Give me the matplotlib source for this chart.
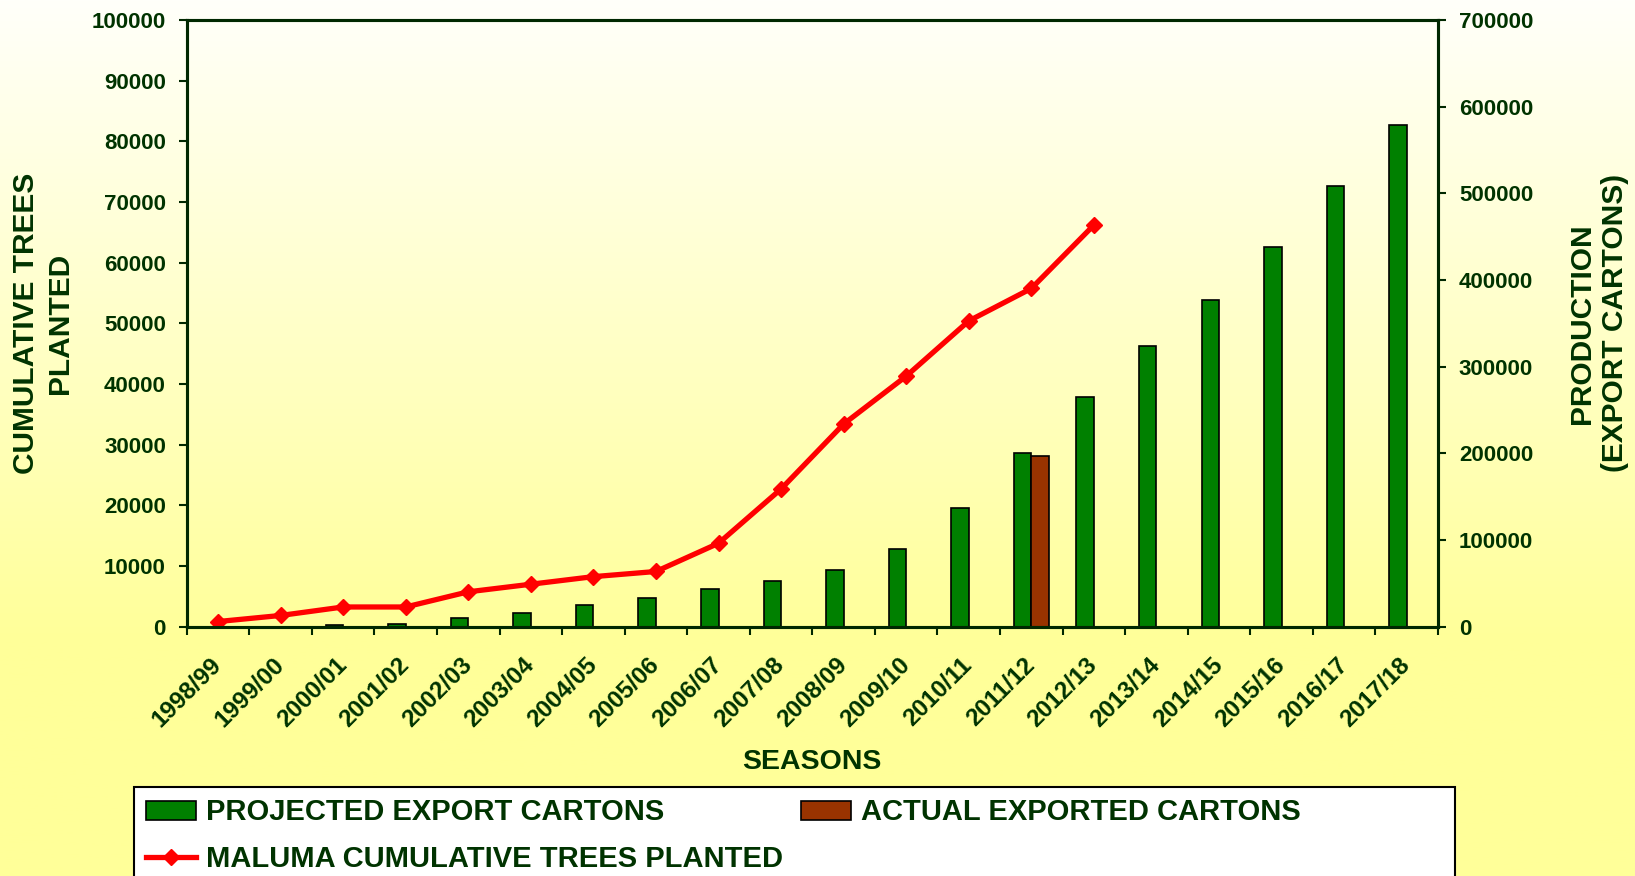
import numpy as np
import matplotlib
matplotlib.use("Agg")
import matplotlib.pyplot as plt
import matplotlib.transforms as mtransforms
from matplotlib.lines import Line2D
from matplotlib.patches import Patch, Rectangle

seasons = ["1998/99", "1999/00", "2000/01", "2001/02", "2002/03", "2003/04", "2004/05",
           "2005/06", "2006/07", "2007/08", "2008/09", "2009/10", "2010/11", "2011/12",
           "2012/13", "2013/14", "2014/15", "2015/16", "2016/17", "2017/18"]
projected_cartons = [0, 0, 1500, 3000, 10000, 16000, 25000, 33500, 44000, 52500,
                     65000, 90000, 137000, 200000, 265000, 324000, 377000, 438000,
                     508000, 579000]
actual_cartons = [np.nan] * 13 + [197500] + [np.nan] * 6
trees_planted = [850, 1850, 3250, 3250, 5750, 7000, 8250, 9100, 13750, 22700,
                 33400, 41300, 50400, 55750, 66200] + [np.nan] * 5

txt_c = "#003300"
plt.rcParams['font.family'] = ['Liberation Sans', 'DejaVu Sans']
plt.rcParams['font.weight'] = 'bold'
plt.rcParams['axes.labelweight'] = 'bold'

W, H = 1635, 876
fig = plt.figure(figsize=(W / 100, H / 100), dpi=100)

# background gradient, white at top to yellow at bottom
bg = fig.add_axes([0, 0, 1, 1], zorder=-5)
yy = np.linspace(0, 1, 400)
g = np.clip(250 - 95 * yy / 0.716, 153, 255) / 255
img = np.ones((400, 2, 3))
img[:, :, 2] = g[:, None]
bg.imshow(img, aspect='auto', extent=[0, 1, 1, 0])
bg.set_axis_off()

x0, x1, y0, y1 = 186.7, 1438, 20, 626.7
ax1 = fig.add_axes([x0 / W, 1 - y1 / H, (x1 - x0) / W, (y1 - y0) / H])
ax2 = ax1.twinx()
ax1.set_zorder(ax2.get_zorder() + 1)
ax1.patch.set_visible(False)
ax2.patch.set_visible(False)

x = np.arange(len(seasons))
bw = 0.28
ax2.bar(x - bw / 2, projected_cartons, bw, color="#008000", edgecolor="black", linewidth=1.2)
ax2.bar(x + bw / 2, actual_cartons, bw, color="#993300", edgecolor="black", linewidth=1.2)
ax1.plot(x, trees_planted, color="#FF0000", lw=3.8, marker='D', ms=8, mec="#FF0000")

ax1.set_xlim(-0.5, len(seasons) - 0.5)
ax1.set_ylim(0, 100000)
ax2.set_ylim(0, 700000)
ax1.set_yticks(np.arange(0, 100001, 10000))
ax2.set_yticks(np.arange(0, 700001, 100000))

ax1.set_xticks(np.arange(-0.5, len(seasons), 1))
ax1.set_xticklabels([])
ax1.set_xticks(x, minor=True)
ax1.set_xticklabels(seasons, minor=True, rotation=45, ha='right', va='center',
                    rotation_mode='anchor', fontsize=17.5, color=txt_c)
off = mtransforms.ScaledTranslation(-18 / 100, 0, fig.dpi_scale_trans)
for lab in ax1.get_xticklabels(minor=True):
    lab.set_transform(lab.get_transform() + off)
ax1.tick_params(axis='x', which='minor', length=0, pad=25)
ax1.tick_params(axis='x', which='major', length=6, width=1.5, color="#002800")
ax1.tick_params(axis='y', length=6, width=1.5, pad=9, labelsize=16, labelcolor=txt_c, color="#002800")
ax2.tick_params(axis='y', length=6, width=1.5, pad=9, labelsize=16, labelcolor=txt_c, color="#002800")

for a in (ax1, ax2):
    for s in a.spines.values():
        s.set_color("#002800")
        s.set_linewidth(2.2)

ax1.set_ylabel("CUMULATIVE TREES\nPLANTED", fontsize=21.5, color=txt_c, labelpad=13, linespacing=1.25)
ax2.set_ylabel("PRODUCTION\n(EXPORT CARTONS)", fontsize=21.5, color=txt_c, labelpad=25,
               rotation=90, va='top', linespacing=1.25)
ax1.set_xlabel("SEASONS", fontsize=20.5, color=txt_c)
ax1.xaxis.set_label_coords(0.5, -(762 - y1) / (y1 - y0), transform=ax1.transAxes)
ax1.xaxis.label.set_va('center')

# legend box
fig.patches.append(Rectangle((134 / W, -0.05), (1455 - 134) / W, 0.05 + 1 - 787 / H,
                             transform=fig.transFigure, facecolor='white',
                             edgecolor='black', lw=1.5, zorder=1))
handles = [Patch(facecolor="#008000", edgecolor='black', lw=1.2),
           Line2D([], [], color="#FF0000", lw=3.8, marker='D', ms=8),
           Patch(facecolor="#993300", edgecolor='black', lw=1.2)]
labels = ["PROJECTED EXPORT CARTONS", "MALUMA CUMULATIVE TREES PLANTED",
          "ACTUAL EXPORTED CARTONS"]
fig.legend(handles, labels, loc='upper left', bbox_to_anchor=(145.8 / W, 1 - 798.5 / H),
           ncol=2, frameon=False, borderpad=0, borderaxespad=0, fontsize=21,
           labelcolor=txt_c, handlelength=1.71, handleheight=0.62, handletextpad=0.34,
           columnspacing=0.64, labelspacing=0.62)

fig.savefig("out.png", dpi=100)
